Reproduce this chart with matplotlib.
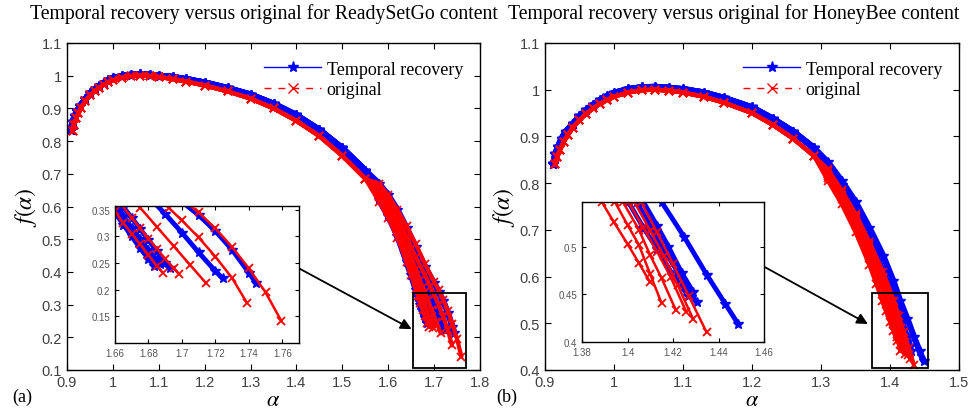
import matplotlib
matplotlib.use('Agg')
import matplotlib.pyplot as plt
from matplotlib.ticker import FuncFormatter
from matplotlib.lines import Line2D
from matplotlib.patches import Rectangle

plt.rcParams['mathtext.fontset'] = 'stix'

# ---------------- data ----------------
# (a) ReadySetGo: shared head of the spectra, then one tail per curve
a_red_head_alpha = [0.912, 0.915, 0.92, 0.925, 0.93, 0.94, 0.95, 0.96, 0.97, 0.98, 0.99, 1.0,
                    1.02, 1.04, 1.06, 1.08, 1.10, 1.13, 1.16, 1.20, 1.25, 1.30, 1.35, 1.40,
                    1.45, 1.50, 1.55]
a_red_head_f = [0.83, 0.85, 0.87, 0.885, 0.9, 0.922, 0.94, 0.952, 0.963, 0.972, 0.98, 0.986,
                0.994, 0.999, 1.0, 0.999, 0.996, 0.99, 0.982, 0.97, 0.952, 0.93, 0.9, 0.862,
                0.815, 0.755, 0.685]
a_blue_head_alpha = [0.909, 0.912, 0.917, 0.922, 0.929, 0.94, 0.95, 0.96, 0.97, 0.98, 0.99, 1.0,
                     1.02, 1.04, 1.06, 1.08, 1.10, 1.13, 1.16, 1.20, 1.25, 1.30, 1.35, 1.40,
                     1.45, 1.50, 1.55]
a_blue_head_f = [0.835, 0.857, 0.877, 0.892, 0.908, 0.928, 0.946, 0.958, 0.969, 0.978, 0.986, 0.992,
                 0.999, 1.003, 1.004, 1.003, 1.0, 0.996, 0.989, 0.979, 0.962, 0.942, 0.914, 0.879,
                 0.834, 0.778, 0.71]

a_blue_tail_alpha = [
    [1.58, 1.60, 1.62, 1.64, 1.65, 1.66, 1.665, 1.67, 1.675, 1.68, 1.6835],
    [1.58, 1.60, 1.62, 1.64, 1.65, 1.66, 1.665, 1.67, 1.675, 1.68, 1.685, 1.69, 1.6926],
    [1.58, 1.60, 1.62, 1.64, 1.65, 1.66, 1.665, 1.67, 1.675, 1.68, 1.685, 1.687],
    [1.58, 1.60, 1.62, 1.64, 1.66, 1.68, 1.69, 1.70, 1.71, 1.72, 1.7244],
    [1.58, 1.60, 1.62, 1.64, 1.66, 1.68, 1.70, 1.71, 1.72, 1.73, 1.74, 1.7444],
]
a_blue_tail_f = [
    [0.62, 0.57, 0.51, 0.43, 0.39, 0.345, 0.322, 0.30, 0.278, 0.258, 0.245],
    [0.63, 0.585, 0.53, 0.46, 0.42, 0.375, 0.355, 0.335, 0.314, 0.293, 0.272, 0.25, 0.24],
    [0.625, 0.578, 0.52, 0.445, 0.405, 0.36, 0.338, 0.316, 0.295, 0.274, 0.256, 0.248],
    [0.655, 0.615, 0.565, 0.505, 0.44, 0.375, 0.342, 0.307, 0.27, 0.235, 0.221],
    [0.67, 0.635, 0.59, 0.535, 0.475, 0.415, 0.365, 0.34, 0.31, 0.275, 0.232, 0.212],
]
a_red_tail_alpha = [
    [1.58, 1.60, 1.62, 1.64, 1.65, 1.66, 1.665, 1.67, 1.675, 1.68, 1.685, 1.6885],
    [1.58, 1.60, 1.62, 1.64, 1.66, 1.67, 1.675, 1.68, 1.685, 1.69, 1.695, 1.6985],
    [1.58, 1.60, 1.62, 1.64, 1.66, 1.675, 1.685, 1.695, 1.705, 1.7145],
    [1.58, 1.60, 1.62, 1.64, 1.66, 1.68, 1.692, 1.70, 1.71, 1.72, 1.73, 1.7389],
    [1.58, 1.60, 1.62, 1.64, 1.66, 1.68, 1.70, 1.71, 1.72, 1.73, 1.74, 1.75, 1.7595],
]
a_red_tail_f = [
    [0.615, 0.565, 0.505, 0.43, 0.39, 0.347, 0.325, 0.305, 0.285, 0.265, 0.245, 0.232],
    [0.63, 0.585, 0.53, 0.46, 0.375, 0.335, 0.315, 0.296, 0.277, 0.258, 0.24, 0.229],
    [0.64, 0.6, 0.545, 0.48, 0.41, 0.354, 0.318, 0.282, 0.246, 0.212],
    [0.66, 0.62, 0.57, 0.51, 0.445, 0.39, 0.354, 0.33, 0.298, 0.262, 0.222, 0.175],
    [0.67, 0.635, 0.59, 0.54, 0.485, 0.425, 0.37, 0.345, 0.315, 0.28, 0.24, 0.195, 0.141],
]

# (b) HoneyBee
b_red_head_alpha = [0.915, 0.918, 0.922, 0.927, 0.933, 0.94, 0.95, 0.96, 0.97, 0.98, 0.99, 1.0,
                    1.02, 1.04, 1.06, 1.08, 1.10, 1.13, 1.16, 1.20, 1.23, 1.26, 1.29]
b_red_head_f = [0.84, 0.857, 0.872, 0.888, 0.903, 0.918, 0.935, 0.949, 0.96, 0.97, 0.978, 0.985,
                0.994, 0.999, 1.0, 0.998, 0.994, 0.985, 0.972, 0.95, 0.925, 0.895, 0.858]
b_blue_head_alpha = [0.912, 0.915, 0.919, 0.924, 0.93, 0.94, 0.95, 0.96, 0.97, 0.98, 0.99, 1.0,
                     1.02, 1.04, 1.06, 1.08, 1.10, 1.13, 1.16, 1.20, 1.23, 1.26, 1.29]
b_blue_head_f = [0.842, 0.862, 0.878, 0.895, 0.91, 0.926, 0.943, 0.957, 0.968, 0.978, 0.986, 0.993,
                 1.001, 1.005, 1.006, 1.004, 1.001, 0.994, 0.982, 0.962, 0.938, 0.91, 0.875]

b_red_tail_alpha = [
    [1.31, 1.33, 1.35, 1.37, 1.38, 1.3887, 1.394, 1.40, 1.405, 1.4099],
    [1.31, 1.33, 1.35, 1.37, 1.385, 1.3945, 1.40, 1.405, 1.41, 1.415],
    [1.31, 1.33, 1.35, 1.37, 1.385, 1.398, 1.405, 1.41, 1.415, 1.4213],
    [1.31, 1.33, 1.35, 1.37, 1.385, 1.4004, 1.407, 1.413, 1.419, 1.4259],
    [1.31, 1.33, 1.35, 1.37, 1.39, 1.403, 1.41, 1.416, 1.422, 1.4289],
    [1.31, 1.33, 1.35, 1.37, 1.39, 1.406, 1.413, 1.42, 1.427, 1.4348],
]
b_red_tail_f = [
    [0.805, 0.755, 0.695, 0.625, 0.585, 0.547, 0.526, 0.503, 0.483, 0.4628],
    [0.81, 0.765, 0.71, 0.645, 0.59, 0.547, 0.523, 0.502, 0.471, 0.4406],
    [0.815, 0.77, 0.72, 0.66, 0.605, 0.547, 0.518, 0.491, 0.467, 0.4332],
    [0.82, 0.775, 0.725, 0.665, 0.61, 0.547, 0.52, 0.495, 0.468, 0.4314],
    [0.825, 0.78, 0.73, 0.67, 0.6, 0.547, 0.517, 0.49, 0.46, 0.4237],
    [0.83, 0.785, 0.735, 0.675, 0.61, 0.547, 0.515, 0.482, 0.448, 0.41],
]
b_blue_tail_alpha = [
    [1.31, 1.33, 1.35, 1.37, 1.39, 1.4004, 1.407, 1.413, 1.42, 1.4267],
    [1.31, 1.33, 1.35, 1.37, 1.39, 1.404, 1.41, 1.416, 1.423, 1.4304],
    [1.31, 1.33, 1.35, 1.37, 1.39, 1.407, 1.413, 1.418, 1.424, 1.429],
    [1.31, 1.33, 1.35, 1.37, 1.39, 1.405, 1.415, 1.425, 1.435, 1.443, 1.4487],
]
b_blue_tail_f = [
    [0.83, 0.785, 0.735, 0.67, 0.59, 0.547, 0.52, 0.498, 0.47, 0.4486],
    [0.832, 0.79, 0.74, 0.675, 0.6, 0.547, 0.522, 0.497, 0.47, 0.4417],
    [0.835, 0.795, 0.745, 0.682, 0.61, 0.547, 0.522, 0.5, 0.472, 0.452],
    [0.845, 0.805, 0.76, 0.705, 0.645, 0.59, 0.547, 0.51, 0.47, 0.44, 0.4187],
]

titles = ['Temporal recovery versus original for ReadySetGo content',
          'Temporal recovery versus original for HoneyBee content']
panel_tags = ['(a)', '(b)']
legend_labels = ['Temporal recovery', 'original']

# ---------------- style ----------------
C_BLUE = '#0000FF'
C_RED = '#FF0000'
TICK_C = '#404040'
SERIF = ['Liberation Serif', 'DejaVu Serif']
SANS = ['Liberation Sans', 'DejaVu Sans']
fmt = FuncFormatter(lambda v, p: '%g' % round(v, 3))


def draw_curves(ax, p, lw_b, lw_r):
    # all recovered spectra first, originals on top
    for ta, tf in zip(*p['bt']):
        ax.plot(p['bh'][0] + ta, p['bh'][1] + tf, color=C_BLUE, lw=lw_b,
                marker='*', ms=7, mew=1.0, solid_capstyle='round')
    for ta, tf in zip(*p['rt']):
        ax.plot(p['rh'][0] + ta, p['rh'][1] + tf, color=C_RED, lw=lw_r,
                marker='x', ms=6, mew=1.3, solid_capstyle='round')


def style_axes(ax, size, color=TICK_C):
    ax.tick_params(direction='in', top=True, right=True, labelsize=size,
                   labelcolor=color, length=4, width=0.8)
    for lab in ax.get_xticklabels() + ax.get_yticklabels():
        lab.set_fontfamily(SANS)
    for s in ax.spines.values():
        s.set_linewidth(1.0)
    ax.xaxis.set_major_formatter(fmt)
    ax.yaxis.set_major_formatter(fmt)


fig = plt.figure(figsize=(9.78, 4.10), dpi=100)

main_pos = [[67 / 978, 39 / 410, 413 / 978, 327 / 410],
            [545 / 978, 39 / 410, 414 / 978, 327 / 410]]
inset_pos = [[115 / 978, 66 / 410, 184 / 978, 137 / 410],
             [582 / 978, 67 / 410, 182 / 978, 140 / 410]]
tag_x = [12 / 978, 496 / 978]
title_x = [264 / 978, 734 / 978]

panels = [
    dict(rh=(a_red_head_alpha, a_red_head_f), bh=(a_blue_head_alpha, a_blue_head_f),
         rt=(a_red_tail_alpha, a_red_tail_f), bt=(a_blue_tail_alpha, a_blue_tail_f),
         xlim=(0.9, 1.8), ylim=(0.1, 1.1), xt=[0.9 + 0.1 * i for i in range(10)],
         yt=[0.1 + 0.1 * i for i in range(11)],
         ixlim=(1.66, 1.77), iylim=(0.1, 0.357), ixt=[1.66, 1.68, 1.7, 1.72, 1.74, 1.76],
         iyt=[0.15, 0.2, 0.25, 0.3, 0.35],
         rect=(1.655, 0.107, 0.115, 0.228), arrow=((1.651, 0.225), (1.408, 0.409))),
    dict(rh=(b_red_head_alpha, b_red_head_f), bh=(b_blue_head_alpha, b_blue_head_f),
         rt=(b_red_tail_alpha, b_red_tail_f), bt=(b_blue_tail_alpha, b_blue_tail_f),
         xlim=(0.9, 1.5), ylim=(0.4, 1.1), xt=[0.9 + 0.1 * i for i in range(7)],
         yt=[0.4 + 0.1 * i for i in range(8)],
         ixlim=(1.38, 1.46), iylim=(0.4, 0.547), ixt=[1.38, 1.4, 1.42, 1.44, 1.46],
         iyt=[0.4, 0.45, 0.5],
         rect=(1.3735, 0.404, 0.082, 0.161), arrow=((1.368, 0.4985), (1.219, 0.62))),
]

for k, p in enumerate(panels):
    ax = fig.add_axes(main_pos[k])
    draw_curves(ax, p, 4.5, 3.0)
    ax.set_xlim(*p['xlim'])
    ax.set_ylim(*p['ylim'])
    ax.set_xticks(p['xt'])
    ax.set_yticks(p['yt'])
    style_axes(ax, 10.5)
    fig.text(title_x[k], 1 - 14 / 410, titles[k], family=SERIF, fontsize=14.2,
             ha='center', va='center')
    ax.set_xlabel(r'$\alpha$', fontsize=16, va='center')
    ax.xaxis.set_label_coords(0.5, -29 / 327)
    ax.set_ylabel(r'$f(\alpha)$', fontsize=17, labelpad=2)
    rx, ry, rw, rh = p['rect']
    ax.add_patch(Rectangle((rx, ry), rw, rh, fill=False, ec='black', lw=1.3, zorder=5))
    ax.annotate('', xy=p['arrow'][0], xytext=p['arrow'][1],
                arrowprops=dict(arrowstyle='-|>', color='black', lw=1.3,
                                mutation_scale=16, shrinkA=0, shrinkB=0), zorder=5)
    handles = [Line2D([], [], color=C_BLUE, ls='-', lw=1, marker='*', ms=8),
               Line2D([], [], color=C_RED, ls=(0, (5, 5)), lw=1, marker='x', ms=7)]
    ax.legend(handles, legend_labels, loc='upper right', frameon=False,
              prop=dict(family=SERIF, size=13), handlelength=3.2, handletextpad=0.3,
              labelspacing=0.2, borderaxespad=0.3, bbox_to_anchor=(0.99, 0.985))
    fig.text(tag_x[k], 13 / 410, panel_tags[k], family=SERIF,
             fontsize=13, ha='left', va='center')

    ins = fig.add_axes(inset_pos[k])
    ins.set_facecolor('white')
    draw_curves(ins, p, 3.5, 1.8)
    ins.set_xlim(*p['ixlim'])
    ins.set_ylim(*p['iylim'])
    ins.set_xticks(p['ixt'])
    ins.set_yticks(p['iyt'])
    style_axes(ins, 7, '#555555')
    ins.tick_params(length=3)

fig.savefig('out.png', dpi=100)
